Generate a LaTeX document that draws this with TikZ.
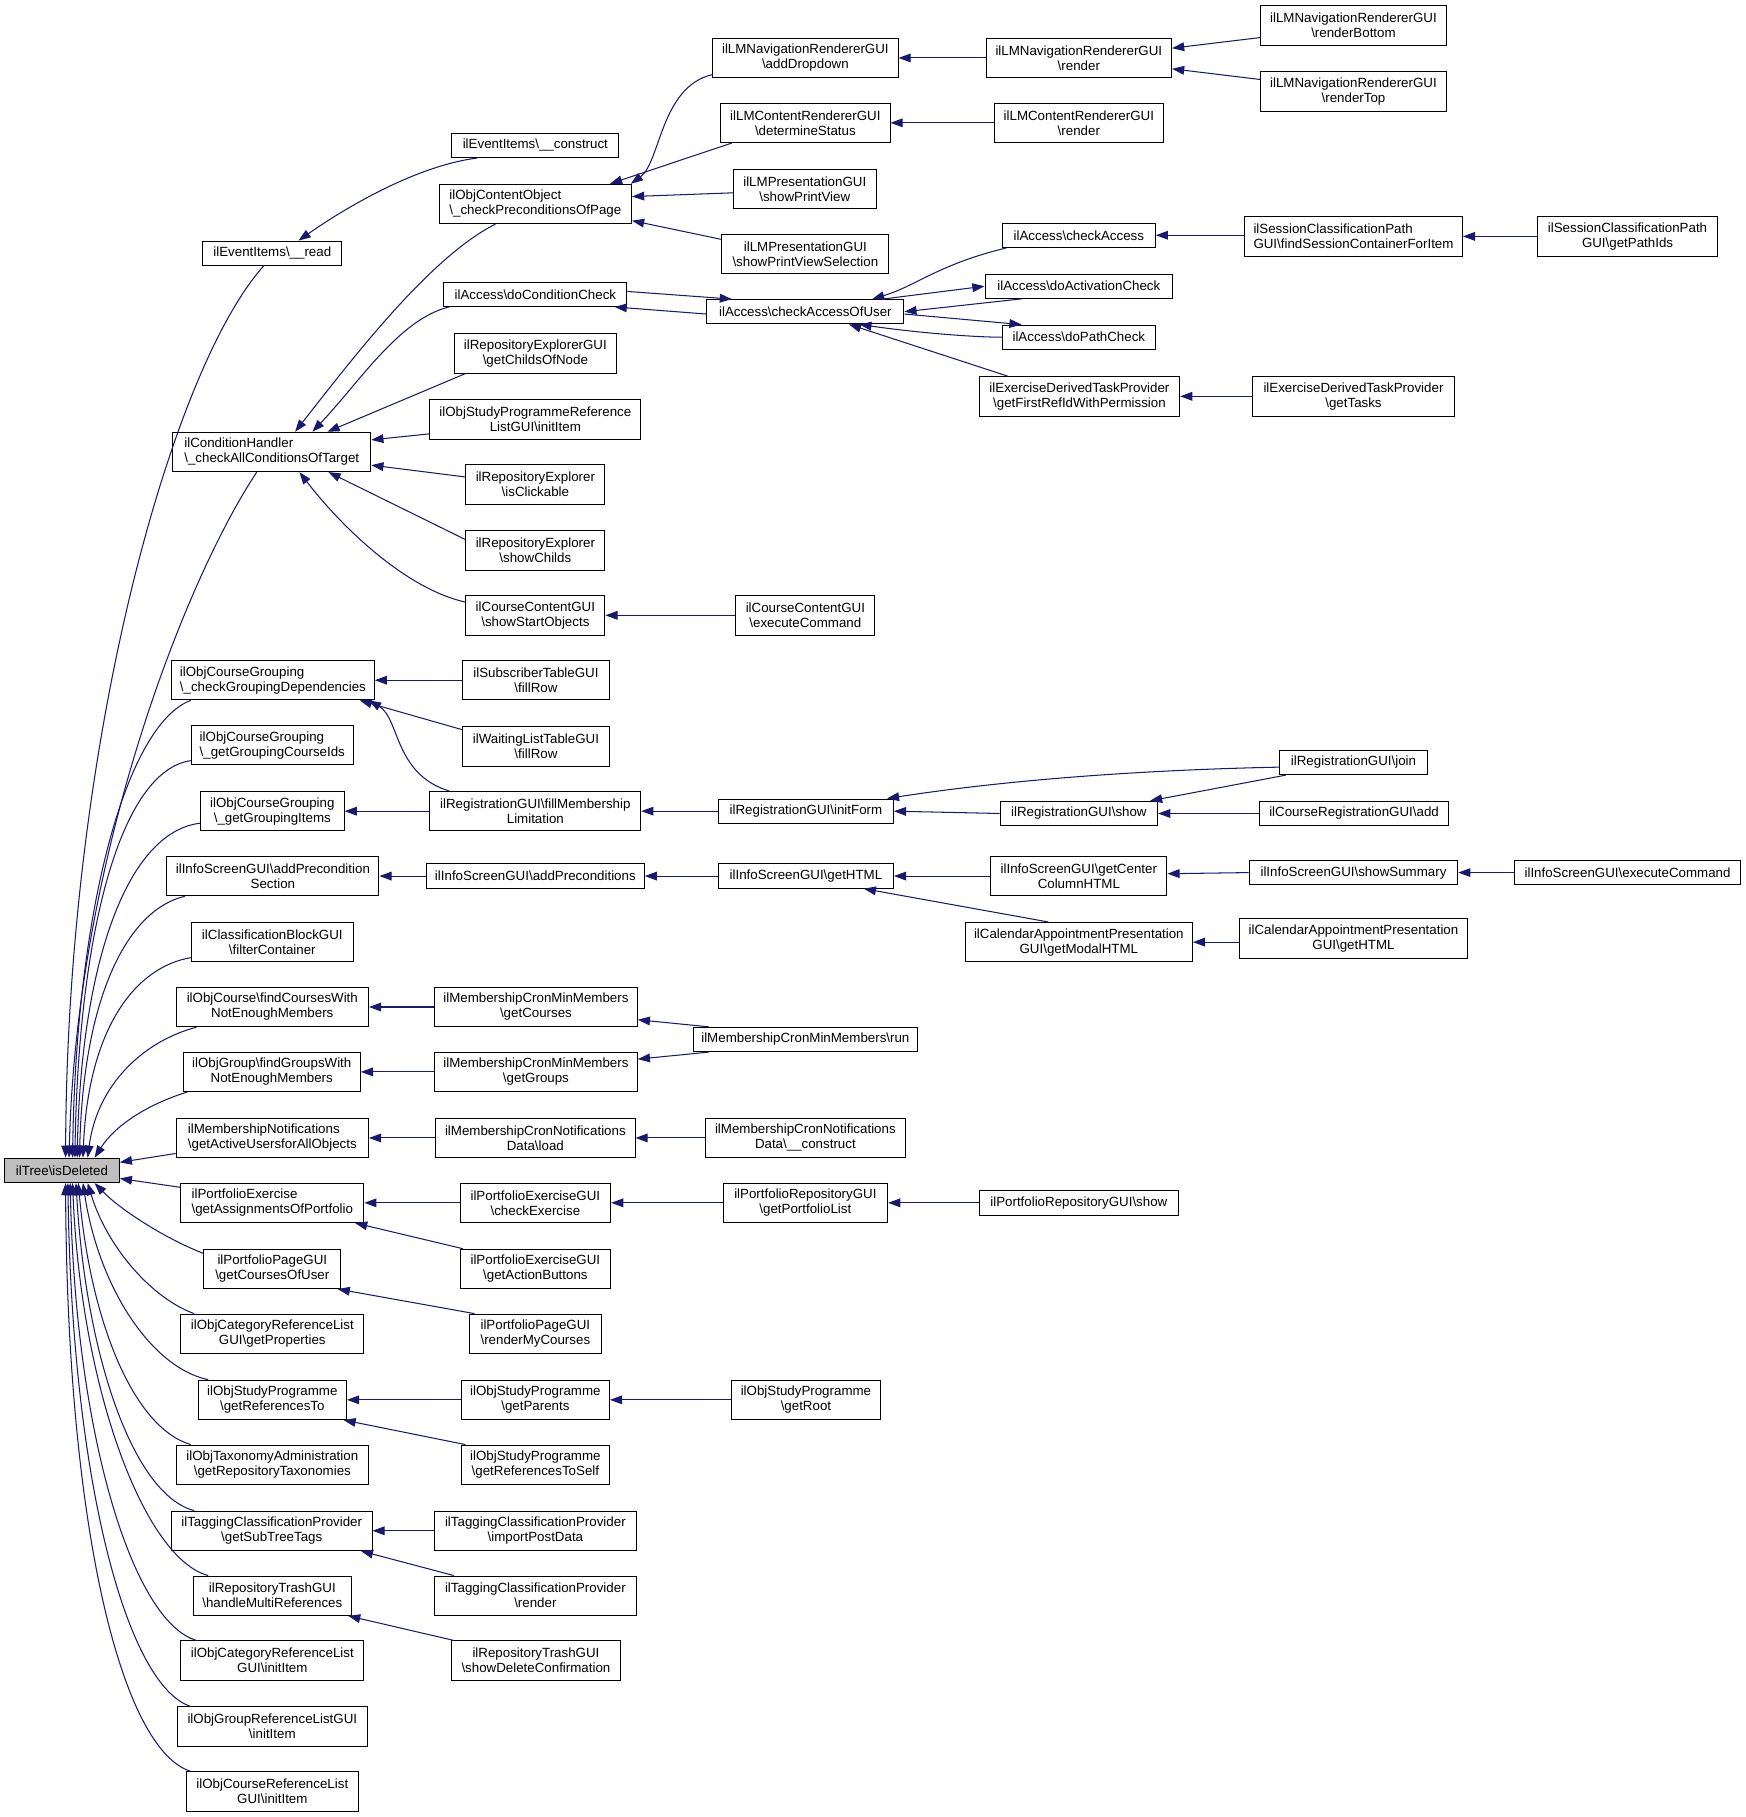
\documentclass[tikz,border=0pt]{standalone}
\usepackage{fontspec}
\setmainfont{Liberation Sans}
\usetikzlibrary{arrows.meta}
\definecolor{cgblue}{HTML}{191970}
\newcommand{\BSL}{\textbackslash}
\newcommand{\nd}[7][box]{\node[#1, minimum width=#5pt, minimum height=#6pt] (#2) at (#3,#4) {#7};}
\begin{document}
\begin{tikzpicture}[x=1pt,y=-1pt,
  box/.style={draw=black, line width=0.8pt, fill=white, inner sep=1pt, align=center, font=\fontsize{11.5}{13}\selectfont},
  lbox/.style={box, align=left},
  tbox/.style={box, fill=black!25},
  cg/.style={draw=cgblue, line width=0.9pt, {Triangle[length=10.5pt,width=7.5pt]}-},
  cgend/.style={draw=cgblue, line width=0.9pt, -{Triangle[length=10.5pt,width=7.5pt]}}]
\fill[white] (0,0) rectangle (1506,1568);
\useasboundingbox (0,0) rectangle (1506,1568);
% column 0
\nd[tbox]{tree}{53.5}{1010}{99}{21}{ilTree\BSL isDeleted}
% column 1
\nd{evread}{235}{218.5}{120}{21}{ilEventItems\BSL\_\_read}
\nd[lbox]{cond}{234.5}{390}{171}{34}{ilConditionHandler\\\BSL\_checkAllConditionsOfTarget}
\nd[lbox]{cgdep}{235.5}{587}{175}{34}{ilObjCourseGrouping\\\BSL\_checkGroupingDependencies}
\nd[lbox]{cgids}{235}{643}{140}{34}{ilObjCourseGrouping\\\BSL\_getGroupingCourseIds}
\nd{cgitems}{235}{700}{124}{34}{ilObjCourseGrouping\\\BSL\_getGroupingItems}
\nd{addprecsec}{235.5}{756}{183}{34}{ilInfoScreenGUI\BSL addPrecondition\\Section}
\nd{classblock}{235}{813}{140}{34}{ilClassificationBlockGUI\\\BSL filterContainer}
\nd{findcourses}{235}{869}{166}{34}{ilObjCourse\BSL findCoursesWith\\NotEnoughMembers}
\nd{findgroups}{234.5}{925}{153}{34}{ilObjGroup\BSL findGroupsWith\\NotEnoughMembers}
\nd[lbox]{memnotif}{235}{982}{166}{34}{ilMembershipNotifications\\\BSL getActiveUsersforAllObjects}
\nd[lbox]{portex}{235}{1038}{158}{34}{ilPortfolioExercise\\\BSL getAssignmentsOfPortfolio}
\nd{ppcourses}{235}{1095}{118}{34}{ilPortfolioPageGUI\\\BSL getCoursesOfUser}
\nd{catprop}{235}{1151}{158}{34}{ilObjCategoryReferenceList\\GUI\BSL getProperties}
\nd{sprefs}{235}{1208}{128}{34}{ilObjStudyProgramme\\\BSL getReferencesTo}
\nd{taxo}{235}{1264}{166}{34}{ilObjTaxonomyAdministration\\\BSL getRepositoryTaxonomies}
\nd{tagsub}{234.5}{1321}{173}{34}{ilTaggingClassificationProvider\\\BSL getSubTreeTags}
\nd{trashmulti}{235}{1377}{136}{34}{ilRepositoryTrashGUI\\\BSL handleMultiReferences}
\nd{catinit}{235}{1433}{158}{34}{ilObjCategoryReferenceList\\GUI\BSL initItem}
\nd{grpinit}{235}{1490}{164}{34}{ilObjGroupReferenceListGUI\\\BSL initItem}
\nd{crsinit}{235}{1546}{148}{34}{ilObjCourseReferenceList\\GUI\BSL initItem}
% column 2
\nd{evcons}{462}{125.5}{144}{21}{ilEventItems\BSL\_\_construct}
\nd[lbox]{cocheck}{462}{176}{166}{34}{ilObjContentObject\\\BSL\_checkPreconditionsOfPage}
\nd{docond}{462}{254}{158}{21}{ilAccess\BSL doConditionCheck}
\nd{repchilds}{462}{305}{140}{34}{ilRepositoryExplorerGUI\\\BSL getChildsOfNode}
\nd{spreflist}{462}{362}{182}{34}{ilObjStudyProgrammeReference\\ListGUI\BSL initItem}
\nd{repclick}{462}{418}{120}{34}{ilRepositoryExplorer\\\BSL isClickable}
\nd{repshow}{462}{475}{120}{34}{ilRepositoryExplorer\\\BSL showChilds}
\nd{ccstart}{462}{531}{120}{34}{ilCourseContentGUI\\\BSL showStartObjects}
\nd{subfill}{462.5}{587}{127}{34}{ilSubscriberTableGUI\\\BSL fillRow}
\nd{waitfill}{462.5}{644}{127}{34}{ilWaitingListTableGUI\\\BSL fillRow}
\nd{regfill}{462}{700}{182}{34}{ilRegistrationGUI\BSL fillMembership\\Limitation}
\nd{addprec}{462}{756}{188}{21}{ilInfoScreenGUI\BSL addPreconditions}
\nd{cronc}{462.5}{869}{175}{34}{ilMembershipCronMinMembers\\\BSL getCourses}
\nd{crong}{462.5}{925}{175}{34}{ilMembershipCronMinMembers\\\BSL getGroups}
\nd{notload}{462}{982}{172}{34}{ilMembershipCronNotifications\\Data\BSL load}
\nd{pexcheck}{462}{1038}{130}{34}{ilPortfolioExerciseGUI\\\BSL checkExercise}
\nd{pexbtn}{462}{1095}{130}{34}{ilPortfolioExerciseGUI\\\BSL getActionButtons}
\nd{pprender}{462}{1151}{114}{34}{ilPortfolioPageGUI\\\BSL renderMyCourses}
\nd{spparents}{462}{1208}{128}{34}{ilObjStudyProgramme\\\BSL getParents}
\nd{spself}{462}{1264}{128}{34}{ilObjStudyProgramme\\\BSL getReferencesToSelf}
\nd{tagimport}{462}{1321}{174}{34}{ilTaggingClassificationProvider\\\BSL importPostData}
\nd{tagrender}{462}{1377}{174}{34}{ilTaggingClassificationProvider\\\BSL render}
\nd{trashshow}{462.5}{1433}{145}{34}{ilRepositoryTrashGUI\\\BSL showDeleteConfirmation}
% column 3
\nd{lmdrop}{695}{50}{160}{34}{ilLMNavigationRendererGUI\\\BSL addDropdown}
\nd{lmstatus}{695}{106}{146}{34}{ilLMContentRendererGUI\\\BSL determineStatus}
\nd{lmprint}{694.5}{163}{123}{34}{ilLMPresentationGUI\\\BSL showPrintView}
\nd{lmprintsel}{695}{219}{144}{34}{ilLMPresentationGUI\\\BSL showPrintViewSelection}
\nd{accuser}{695}{269}{170}{21}{ilAccess\BSL checkAccessOfUser}
\nd{ccexec}{695}{531}{120}{34}{ilCourseContentGUI\\\BSL executeCommand}
\nd{reginit}{695.5}{700}{151}{21}{ilRegistrationGUI\BSL initForm}
\nd{infohtml}{695.5}{756}{151}{21}{ilInfoScreenGUI\BSL getHTML}
\nd{cronrun}{695}{897}{194}{21}{ilMembershipCronMinMembers\BSL run}
\nd{notcons}{695}{982}{172}{34}{ilMembershipCronNotifications\\Data\BSL\_\_construct}
\nd{prlist}{695}{1038}{142}{34}{ilPortfolioRepositoryGUI\\\BSL getPortfolioList}
\nd{sproot}{695.5}{1208}{129}{34}{ilObjStudyProgramme\\\BSL getRoot}
% column 4
\nd{lmnavrender}{931}{50}{160}{34}{ilLMNavigationRendererGUI\\\BSL render}
\nd{lmcontrender}{931}{106}{146}{34}{ilLMContentRendererGUI\\\BSL render}
\nd{acccheck}{931}{203}{132}{21}{ilAccess\BSL checkAccess}
\nd{accact}{931}{247}{162}{21}{ilAccess\BSL doActivationCheck}
\nd{accpath}{931}{291}{132}{21}{ilAccess\BSL doPathCheck}
\nd{exfirst}{931.5}{342}{173}{34}{ilExerciseDerivedTaskProvider\\\BSL getFirstRefIdWithPermission}
\nd{regshow}{931}{702}{136}{21}{ilRegistrationGUI\BSL show}
\nd{infocenter}{931}{756}{152}{34}{ilInfoScreenGUI\BSL getCenter\\ColumnHTML}
\nd{calmodal}{931}{813}{196}{34}{ilCalendarAppointmentPresentation\\GUI\BSL getModalHTML}
\nd{prshow}{931}{1038}{172}{21}{ilPortfolioRepositoryGUI\BSL show}
% column 5
\nd{renderbottom}{1168}{22}{160}{34}{ilLMNavigationRendererGUI\\\BSL renderBottom}
\nd{rendertop}{1168}{79}{160}{34}{ilLMNavigationRendererGUI\\\BSL renderTop}
\nd[lbox]{sessfind}{1168}{204}{188}{34}{ilSessionClassificationPath\\GUI\BSL findSessionContainerForItem}
\nd{extasks}{1168}{342}{174}{34}{ilExerciseDerivedTaskProvider\\\BSL getTasks}
\nd{regjoin}{1168}{658}{128}{21}{ilRegistrationGUI\BSL join}
\nd{crsregadd}{1168.5}{702}{163}{21}{ilCourseRegistrationGUI\BSL add}
\nd{infosummary}{1168}{753}{180}{21}{ilInfoScreenGUI\BSL showSummary}
\nd{calhtml}{1168}{810}{196}{34}{ilCalendarAppointmentPresentation\\GUI\BSL getHTML}
% column 6
\nd{sesspath}{1404.5}{204}{155}{34}{ilSessionClassificationPath\\GUI\BSL getPathIds}
\nd{infoexec}{1404.5}{753}{195}{21}{ilInfoScreenGUI\BSL executeCommand}

% ---- edges into ilTree (upper)
\draw[cg] ([xshift=53pt]tree.north west) .. controls (58,640) and (148,318) .. ([xshift=53pt]evread.south west);
\draw[cg] ([xshift=56pt]tree.north west) .. controls (66,740) and (160,500) .. ([xshift=73pt]cond.south west);
\draw[cg] ([xshift=59pt]tree.north west) .. controls (66,780) and (110,625) .. ([xshift=17pt]cgdep.south west);
\draw[cg] ([xshift=61pt]tree.north west) .. controls (68,800) and (105,665) .. ([yshift=4pt]cgids.south west);
\draw[cg] ([xshift=63pt]tree.north west) .. controls (70,830) and (110,718) .. ([yshift=7pt]cgitems.south west);
\draw[cg] ([xshift=65pt]tree.north west) .. controls (72,860) and (110,785) .. ([xshift=16pt]addprecsec.south west);
\draw[cg] ([xshift=68pt]tree.north west) .. controls (76,890) and (115,835) .. ([yshift=4pt]classblock.south west);
\draw[cg] ([xshift=72pt]tree.north west) .. controls (84,935) and (125,898) .. ([xshift=18pt]findcourses.south west);
\draw[cg] ([xshift=78pt]tree.north west) .. controls (100,970) and (130,952) .. ([xshift=4pt]findgroups.south west);
\draw[cg] ([yshift=7pt]tree.east) -- ([yshift=4pt]memnotif.south west);
\draw[cg] ([yshift=-7pt]tree.east) -- ([yshift=-4pt]portex.north west);
% ---- edges into ilTree (lower)
\draw[cg] ([xshift=78pt]tree.south west) .. controls (105,1045) and (145,1070) .. ([yshift=-4pt]ppcourses.north west);
\draw[cg] ([xshift=72pt]tree.south west) .. controls (92,1075) and (130,1120) .. ([xshift=12pt]catprop.north west);
\draw[cg] ([xshift=68pt]tree.south west) .. controls (85,1110) and (130,1180) .. ([xshift=9pt]sprefs.north west);
\draw[cg] ([xshift=64pt]tree.south west) .. controls (78,1140) and (115,1232) .. ([xshift=13pt]taxo.north west);
\draw[cg] ([xshift=62pt]tree.south west) .. controls (74,1170) and (115,1290) .. ([xshift=20pt]tagsub.north west);
\draw[cg] ([xshift=59pt]tree.south west) .. controls (70,1200) and (125,1345) .. ([xshift=13pt]trashmulti.north west);
\draw[cg] ([xshift=57pt]tree.south west) .. controls (65,1240) and (115,1400) .. ([xshift=14pt]catinit.north west);
\draw[cg] ([xshift=55pt]tree.south west) .. controls (62,1280) and (110,1455) .. ([xshift=12pt]grpinit.north west);
\draw[cg] ([xshift=53pt]tree.south west) .. controls (58,1320) and (105,1510) .. ([xshift=4pt]crsinit.north west);

% ---- top region
\draw[cg] ([xshift=83pt]evread.north west) .. controls (300,178) and (360,143) .. ([xshift=22pt]evcons.south west);
\draw[cg] ([xshift=106pt]cond.north west) .. controls (300,315) and (370,222) .. ([xshift=49pt]cocheck.south west);
\draw[cg] ([xshift=121pt]cond.north west) .. controls (310,330) and (345,275) .. ([xshift=5pt]docond.south west);
\draw[cg] ([xshift=134pt]cond.north west) -- ([xshift=10pt]repchilds.south west);
\draw[cg] ([yshift=-7pt]cond.north east) -- ([yshift=5pt]spreflist.south west);
\draw[cg] ([yshift=6pt]cond.south east) -- ([yshift=-11pt]repclick.north west);
\draw[cg] ([xshift=-37pt]cond.south east) -- ([yshift=-8pt]repshow.north west);
\draw[cg] ([xshift=-62pt]cond.south east) .. controls (295,455) and (350,508) .. ([yshift=-6pt]ccstart.north west);
\draw[cg] (ccstart.east) -- (ccexec.west);

\draw[cg] ([xshift=-1pt]cocheck.north east) .. controls (570,140) and (570,75) .. ([yshift=3pt]lmdrop.south west);
\draw[cg] ([xshift=-19pt]cocheck.north east) -- ([xshift=10pt]lmstatus.south west);
\draw[cg] ([yshift=-11pt]cocheck.north east) -- ([yshift=14pt]lmprint.south west);
\draw[cg] ([yshift=3pt]cocheck.south east) -- ([yshift=-5pt]lmprintsel.north west);
\draw[cg] (lmdrop.east) -- (lmnavrender.west);
\draw[cg] ([yshift=-9pt]lmnavrender.north east) -- ([yshift=7pt]renderbottom.south west);
\draw[cg] ([yshift=8pt]lmnavrender.south east) -- ([yshift=-7pt]rendertop.north west);
\draw[cg] (lmstatus.east) -- (lmcontrender.west);

% ---- ilAccess cluster
\draw[cgend] ([yshift=2.5pt]docond.east) -- ([xshift=22pt]accuser.north west);
\draw[cg] ([xshift=-11pt]docond.south east) -- ([yshift=-2pt]accuser.west);
\draw[cg] ([xshift=143pt]accuser.north west) .. controls (790,247) and (810,228) .. ([xshift=4pt]acccheck.south west);
\draw[cgend] ([xshift=152pt]accuser.north west) -- (accact.west);
\draw[cg] (accuser.east) -- ([xshift=32pt]accact.south west);
\draw[cgend] ([yshift=-2pt]accuser.east) -- ([xshift=17pt]accpath.north west);
\draw[cg] ([xshift=132pt]accuser.south west) .. controls (790,287) and (840,291) .. (accpath.west);
\draw[cg] ([xshift=123pt]accuser.south west) -- ([xshift=25pt]exfirst.north west);
\draw[cg] (acccheck.east) -- (sessfind.west |- acccheck.east);
\draw[cg] (sessfind.east) -- (sesspath.west);
\draw[cg] (exfirst.east) -- (extasks.west);

% ---- grouping / registration
\draw[cg] (cgdep.east) -- (subfill.west);
\draw[cg] ([xshift=-13pt]cgdep.south east) -- ([yshift=-3pt]waitfill.north west);
\draw[cg] ([xshift=-5pt]cgdep.south east) .. controls (345,620) and (340,668) .. ([xshift=17pt]regfill.north west);
\draw[cg] (cgitems.east) -- (regfill.west);
\draw[cg] (regfill.east) -- (reginit.west);
\draw[cg] ([xshift=-6pt]reginit.north east) .. controls (850,676) and (960,665) .. ([yshift=-4pt]regjoin.west);
\draw[cg] (reginit.east) -- (regshow.west);
\draw[cg] ([xshift=-7pt]regshow.north east) -- ([xshift=6pt]regjoin.south west);
\draw[cg] (regshow.east) -- (crsregadd.west);

% ---- info screen
\draw[cg] (addprecsec.east) -- (addprec.west);
\draw[cg] (addprec.east) -- (infohtml.west);
\draw[cg] (infohtml.east) -- (infocenter.west);
\draw[cg] ([xshift=-26pt]infohtml.south east) -- ([xshift=72pt]calmodal.north west);
\draw[cg] ([yshift=2pt]infocenter.east) -- (infosummary.west);
\draw[cg] (infosummary.east) -- (infoexec.west);
\draw[cg] (calmodal.east) -- (calhtml.west |- calmodal.east);

% ---- membership
\draw[cg] (findcourses.east) -- (cronc.west);
\draw[cg] ([yshift=-11pt]cronc.east) -- ([xshift=14pt]cronrun.north west);
\draw[cg] (findgroups.east) -- (crong.west);
\draw[cg] ([yshift=11pt]crong.east) -- ([xshift=14pt]cronrun.south west);
\draw[cg] (memnotif.east) -- (notload.west);
\draw[cg] (notload.east) -- (notcons.west);

% ---- portfolio
\draw[cg] (portex.east) -- (pexcheck.west);
\draw[cg] ([xshift=-8pt]portex.south east) -- ([xshift=3pt]pexbtn.north west);
\draw[cg] (pexcheck.east) -- (prlist.west);
\draw[cg] (prlist.east) -- (prshow.west);
\draw[cg] ([xshift=-3pt]ppcourses.south east) -- ([xshift=5pt]pprender.north west);

% ---- study programme, tagging, trash
\draw[cg] (sprefs.east) -- (spparents.west);
\draw[cg] (spparents.east) -- (sproot.west);
\draw[cg] ([xshift=-3pt]sprefs.south east) -- ([xshift=4pt]spself.north west);
\draw[cg] (tagsub.east) -- (tagimport.west);
\draw[cg] ([xshift=-10pt]tagsub.south east) -- ([xshift=17pt]tagrender.north west);
\draw[cg] ([xshift=-3pt]trashmulti.south east) -- ([xshift=2pt]trashshow.north west);
\end{tikzpicture}
\end{document}
